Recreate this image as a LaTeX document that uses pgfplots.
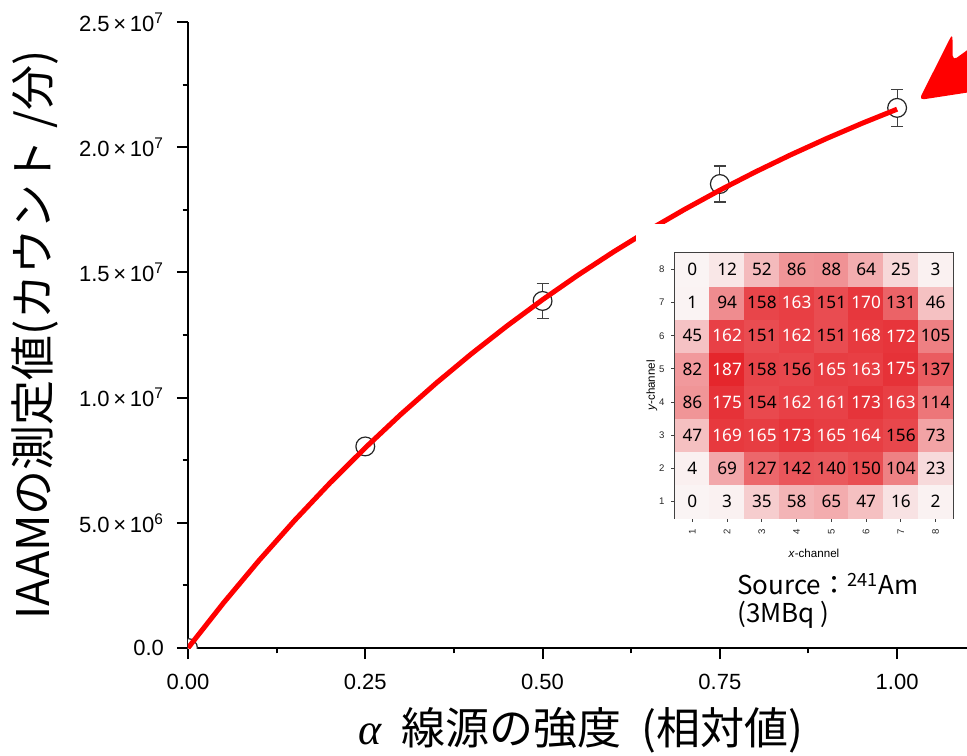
\documentclass[border=0pt]{standalone}
\usepackage{fontspec}
\setmainfont{Liberation Sans}
\newfontfamily\jp{Noto Sans CJK JP}
\newfontfamily\lserif{Liberation Serif}
\newfontfamily\nsans{Noto Sans}
\usepackage{pgfplots}
\usepackage{pgfplotstable}
\pgfplotsset{compat=1.18}
\usetikzlibrary{arrows.meta}

\pgfplotstableread{
x y e
0 0 0
0.25 8.05e6 2.0e5
0.5 1.386e7 7.0e5
0.75 1.853e7 7.2e5
1.0 2.157e7 7.5e5
}\pts

\pgfplotstableread{
x y
0 0
0.05 1.798e6
0.10 3.490e6
0.15 5.084e6
0.20 6.584e6
0.25 7.996e6
0.30 9.326e6
0.35 1.0578e7
0.40 1.1756e7
0.45 1.2865e7
0.50 1.3910e7
0.55 1.4893e7
0.60 1.5819e7
0.65 1.6691e7
0.70 1.7511e7
0.75 1.8284e7
0.80 1.9011e7
0.85 1.9696e7
0.90 2.0340e7
0.95 2.0947e7
1.00 2.1518e7
}\fit

\pgfplotstableread{
x y v
1 1 0
2 1 3
3 1 35
4 1 58
5 1 65
6 1 47
7 1 16
8 1 2
1 2 4
2 2 69
3 2 127
4 2 142
5 2 140
6 2 150
7 2 104
8 2 23
1 3 47
2 3 169
3 3 165
4 3 173
5 3 165
6 3 164
7 3 156
8 3 73
1 4 86
2 4 175
3 4 154
4 4 162
5 4 161
6 4 173
7 4 163
8 4 114
1 5 82
2 5 187
3 5 158
4 5 156
5 5 165
6 5 163
7 5 175
8 5 137
1 6 45
2 6 162
3 6 151
4 6 162
5 6 151
6 6 168
7 6 172
8 6 105
1 7 1
2 7 94
3 7 158
4 7 163
5 7 151
6 7 170
7 7 131
8 7 46
1 8 0
2 8 12
3 8 52
4 8 86
5 8 88
6 8 64
7 8 25
8 8 3
}\heat

\begin{document}
\begin{tikzpicture}
\clip (-94pt,-53.5pt) rectangle (389.5pt,324pt);
\begin{axis}[
  at={(0,0)}, anchor=south west,
  scale only axis, width=389.3pt, height=313pt,
  xmin=0, xmax=1.098, ymin=0, ymax=2.5e7,
  clip marker paths=true,
  axis x line*=bottom, axis y line*=left,
  axis line style={line width=1pt, black},
  xtick={0,0.25,0.5,0.75,1},
  xticklabels={0.00,0.25,0.50,0.75,1.00},
  ytick={0,5e6,1e7,1.5e7,2e7,2.5e7},
  yticklabels={0.0,5.0\,×\,10\textsuperscript{6},1.0\,×\,10\textsuperscript{7},1.5\,×\,10\textsuperscript{7},2.0\,×\,10\textsuperscript{7},2.5\,×\,10\textsuperscript{7}},
  minor x tick num=1, minor y tick num=1,
  tick align=outside,
  major tick length=5.5pt, minor tick length=2.7pt,
  tick style={black, line width=1pt},
  tick label style={font=\fontsize{11}{13}\selectfont},
  xticklabel shift=4pt, yticklabel shift=3pt,
  scaled ticks=false,
  xlabel={{\lserif\itshape α}\hspace{0.45em}{\jp 線源の強度\hspace{0.45em}(相対値)}},
  xlabel style={at={(axis description cs:0.505,-0.131)}, anchor=center, font=\fontsize{22}{24}\selectfont},
  ylabel={\jp IAAMの測定値(カウント\hspace{0.25em}/分)},
  ylabel style={at={(axis description cs:-0.1965,0.5)}, anchor=center, font=\fontsize{22.5}{24}\selectfont},
]
\addplot[only marks, mark=*, mark size=4.7pt,
  mark options={fill=white, draw=black!85, line width=0.6pt},
  error bars/.cd, y dir=both, y explicit,
  error bar style={black!75, line width=0.6pt},
  error mark options={rotate=90, mark size=3pt, black!75, line width=0.6pt}]
  table[x=x, y=y, y error=e]{\pts};
\addplot[red, line width=2.5pt] table[x=x, y=y]{\fit};
\end{axis}

\fill[white] (224pt,4pt) rectangle (390pt,212pt);

\begin{axis}[
  at={(243.5pt,65pt)}, anchor=south west,
  scale only axis, width=139pt, height=132.5pt,
  xmin=0.5, xmax=8.5, ymin=0.5, ymax=8.5,
  xtick={1,...,8}, ytick={1,...,8},
  xtick pos=bottom, ytick pos=left,
  tick align=outside, major tick length=1.8pt,
  /pgf/number format/assume math mode=true,
  axis line style={draw=black!75, line width=0.7pt},
  tick style={draw=black!75, line width=0.5pt},
  tick label style={font=\fontsize{4.8}{5}\selectfont, text=black!85},
  xticklabel style={rotate=90, anchor=east},
  xlabel={\textit{x}-channel}, ylabel={\textit{y}-channel},
  label style={font=\fontsize{5.8}{7}\selectfont},
  xlabel style={at={(axis description cs:0.5,-0.132)}, anchor=center},
  ylabel style={at={(axis description cs:-0.083,0.5)}, anchor=center},
  colormap={wr}{rgb255=(250,244,244) rgb255=(229,38,44)},
  point meta min=0, point meta max=187,
]
\addplot[matrix plot*, mesh/cols=8, point meta=explicit]
  table[x=x, y=y, meta=v]{\heat};
\addplot[only marks, mark=none,
  point meta=explicit symbolic,
  nodes near coords={\ifnum\pgfplotspointmeta>159 \color{white}\fi\pgfplotspointmeta},
  every node near coord/.append style={anchor=center, font=\nsans\fontsize{8.6}{9}\selectfont, inner sep=0pt}]
  table[x=x, y=y, meta=v]{\heat};
\end{axis}

\node[anchor=west, align=left, font=\jp\fontsize{13}{14}\selectfont, inner sep=0pt] at (274.5pt,23.5pt)
  {Source：\textsuperscript{241}Am\\(3MBq )};

\fill[red, rounded corners=2.5pt, shift={(365.5pt,274pt)}, rotate=36]
  (0pt,0pt) -- (33pt,17pt) -- (25.2pt,6pt) -- (150pt,6pt) -- (150pt,-6pt)
  -- (25.2pt,-6pt) -- (33pt,-17pt) -- cycle;
\end{tikzpicture}
\end{document}
